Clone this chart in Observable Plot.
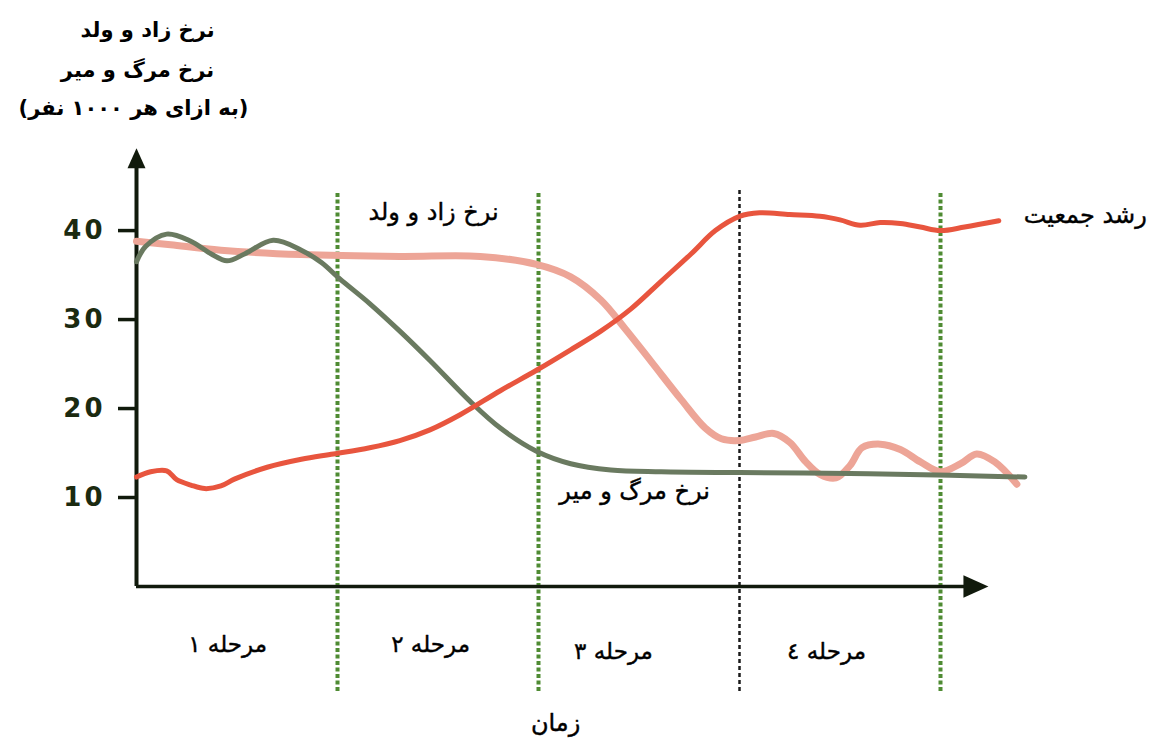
<!DOCTYPE html>
<html><head><meta charset="utf-8">
<script src="https://cdn.jsdelivr.net/npm/d3@7"></script>
<script src="https://cdn.jsdelivr.net/npm/@observablehq/plot@0.6"></script>
<style>
body{margin:0;background:#fff;overflow:hidden}
g[aria-label="y-axis tick label"] text{letter-spacing:3px}
</style>
</head><body><div id="chart"></div>
<script>
// time axis: stage boundaries at 1, 2, 3, 4
const birthT    = [0, 0.17, 0.42, 0.82, 1.31, 1.71, 1.99, 2.16, 2.31, 2.43, 2.56, 2.71, 2.83, 2.91, 3.0, 3.08, 3.17, 3.25, 3.33, 3.40, 3.48, 3.55, 3.61, 3.70, 3.80, 3.90, 4.0, 4.10, 4.18, 4.27, 4.38];
const birthRate = [38.8, 38.4, 37.8, 37.3, 37.1, 37.1, 36.2, 34.8, 32.2, 29.0, 25.3, 21.0, 17.8, 16.6, 16.4, 16.8, 17.2, 16.2, 14.0, 12.6, 12.2, 13.6, 15.6, 16.0, 15.4, 14.0, 12.9, 13.8, 14.9, 14.0, 11.5];

const deathT    = [0, 0.045, 0.15, 0.27, 0.37, 0.45, 0.54, 0.68, 0.82, 0.92, 1.01, 1.16, 1.31, 1.46, 1.66, 1.81, 1.99, 2.16, 2.36, 2.61, 3.0, 3.55, 4.05, 4.42];
const deathRate = [36.5, 38.2, 39.6, 38.8, 37.4, 36.6, 37.4, 38.9, 37.8, 36.4, 34.6, 31.8, 28.7, 25.4, 20.8, 17.8, 15.2, 13.8, 13.1, 12.9, 12.8, 12.7, 12.5, 12.3];

const growthT    = [0, 0.07, 0.15, 0.20, 0.27, 0.34, 0.42, 0.49, 0.65, 0.82, 0.98, 1.16, 1.31, 1.46, 1.61, 1.81, 1.99, 2.16, 2.31, 2.46, 2.61, 2.76, 2.88, 3.0, 3.10, 3.25, 3.40, 3.50, 3.60, 3.70, 3.80, 3.90, 4.0, 4.12, 4.29];
const growthRate = [12.3, 12.9, 13.0, 12.0, 11.4, 11.0, 11.3, 12.1, 13.4, 14.3, 14.9, 15.6, 16.4, 17.6, 19.3, 22.0, 24.3, 26.6, 28.7, 31.2, 34.3, 37.4, 40.0, 41.6, 42.0, 41.8, 41.6, 41.2, 40.6, 40.9, 40.8, 40.4, 40.0, 40.4, 41.1];

const yTicks = [10, 20, 30, 40];
const stageBounds = [1, 2, 3, 4];
const stageBoundKind = ["green", "green", "black", "green"];
const stageNames = ["مرحله ۱", "مرحله ۲", "مرحله ۳", "مرحله ٤"];
const stageNameT = [0.453, 1.463, 2.373, 3.433];
const stageNameV = [-6.5, -6.5, -7.3, -7.3];

const titleLines = ["نرخ زاد و ولد", "نرخ مرگ و میر", "(به ازای هر ۱۰۰۰ نفر)"];
const titleT = [0.055, 0.005, -0.015];
const titleV = [62.5, 58.0, 53.7];

const seriesLabels = ["نرخ زاد و ولد", "نرخ مرگ و میر", "رشد جمعیت"];
const seriesLabelT = [1.478, 2.478, 4.72];
const seriesLabelV = [42.0, 10.75, 41.7];
const xAxisLabel = "زمان";

const birth  = birthT.map((t, i) => ({t, v: birthRate[i]}));
const death  = deathT.map((t, i) => ({t, v: deathRate[i]}));
const growth = growthT.map((t, i) => ({t, v: growthRate[i]}));
const bounds = stageBounds.map((t, i) => ({t, kind: stageBoundKind[i]}));
const stages = stageNames.map((text, i) => ({text, t: stageNameT[i], v: stageNameV[i]}));
const titles = titleLines.map((text, i) => ({text, t: titleT[i], v: titleV[i]}));
const labels = seriesLabels.map((text, i) => ({text, t: seriesLabelT[i], v: seriesLabelV[i]}));

const axisColor = "#111a0c";
const font = "DejaVu Sans";

// arrow-head symbol anchored at the centre of its base, pointing up
const arrowHead = {
  draw(ctx, size) {
    const s = Math.sqrt(size);
    ctx.moveTo(0, -s);
    ctx.lineTo(-0.45 * s, 0);
    ctx.lineTo(0.45 * s, 0);
    ctx.closePath();
  }
};

const chart = Plot.plot({
  width: 1156,
  height: 738,
  marginLeft: 136,
  marginRight: 15,
  marginTop: 150,
  marginBottom: 152,
  x: {domain: [0, 5], axis: null},
  y: {domain: [0, 49], axis: null},
  style: {fontFamily: font, overflow: "visible", background: "#fff"},
  marks: [
    Plot.ruleX(bounds.filter(d => d.kind === "green"), {x: "t", y1: -11.8, y2: 44.4, stroke: "#4f8b33", strokeWidth: 4, strokeDasharray: "4,2.5"}),
    Plot.ruleX(bounds.filter(d => d.kind === "black"), {x: "t", y1: -11.8, y2: 44.6, stroke: "#1a1a1a", strokeWidth: 2.5, strokeDasharray: "4,3"}),
    Plot.ruleX([0], {y1: 0, y2: 47.2, stroke: axisColor, strokeWidth: 4}),
    Plot.ruleY([0], {x1: 0, x2: 4.13, stroke: axisColor, strokeWidth: 3.5}),
    Plot.dot([{t: 0, v: 47.0}], {x: "t", y: "v", symbol: arrowHead, r: 20 / Math.sqrt(Math.PI), fill: axisColor, stroke: null}),
    Plot.dot([{t: 4.114, v: 0}], {x: "t", y: "v", symbol: arrowHead, r: 25 / Math.sqrt(Math.PI), rotate: 90, fill: axisColor, stroke: null}),
    Plot.axisY(yTicks, {tickSize: 18, tickPadding: 13, fontSize: 26, fontWeight: "bold", fontFamily: font, stroke: axisColor, strokeWidth: 3.5, fill: "#1b2a10", label: null}),
    Plot.line(birth, {x: "t", y: "v", curve: "catmull-rom", stroke: "#eda597", strokeWidth: 7, strokeLinejoin: "round"}),
    Plot.line(death, {x: "t", y: "v", curve: "catmull-rom", stroke: "#6a7a60", strokeWidth: 5, strokeLinejoin: "round"}),
    Plot.line(growth, {x: "t", y: "v", curve: "catmull-rom", stroke: "#e8553e", strokeWidth: 5, strokeLinejoin: "round"}),
    Plot.text(titles, {x: "t", y: "v", text: "text", fontSize: 21, fontWeight: "bold", fill: "#000", fontFamily: font}),
    Plot.text(labels, {x: "t", y: "v", text: "text", fontSize: 24, fill: "#000", fontFamily: font, stroke: "#000", strokeWidth: 0.4}),
    Plot.text(stages, {x: "t", y: "v", text: "text", fontSize: 23, fill: "#000", fontFamily: font, stroke: "#000", strokeWidth: 0.4}),
    Plot.text([xAxisLabel], {x: 2.085, y: -15.4, text: d => d, fontSize: 24, fill: "#000", fontFamily: font, stroke: "#000", strokeWidth: 0.4})
  ]
});
document.getElementById("chart").append(chart);
</script>
</body></html>
